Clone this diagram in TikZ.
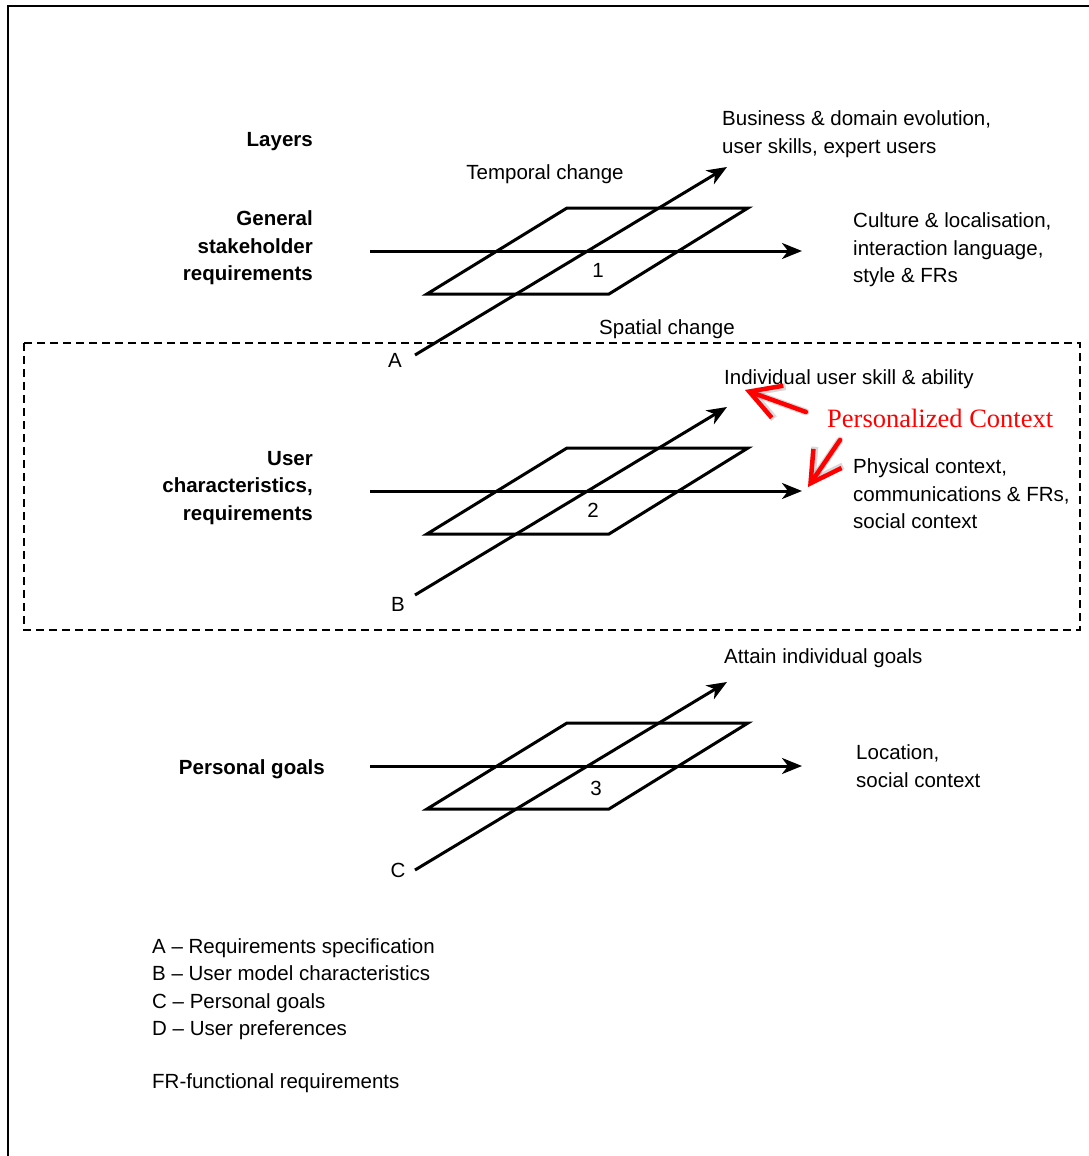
\documentclass[tikz,border=0pt]{standalone}
\usepackage{fontspec}
\setmainfont{Liberation Sans}
\newfontfamily\redserif{Liberation Serif}
\usetikzlibrary{arrows.meta}

\begin{document}
\begin{tikzpicture}[x=1pt,y=-1pt]
\tikzstyle{txt}=[inner sep=0pt, align=left, font=\fontsize{20.5}{27.5}\selectfont]
\tikzstyle{layername}=[inner sep=0pt, align=right, anchor=east, font=\fontsize{20.5}{27.5}\selectfont\bfseries]
\tikzstyle{change}=[-{Stealth[length=20pt,width=16pt,inset=6pt]}, line width=3pt]
\tikzstyle{plane}=[line width=3pt, line join=miter]
\tikzstyle{pointer}=[-{Straight Barb[length=30pt,width=34pt]}, red, line width=4.5pt, line cap=round]
\tikzstyle{pshadow}=[pointer, black, opacity=0.15, line width=7pt, shift={(4pt,-6pt)}]

\useasboundingbox (0,0) rectangle (1089,1156);
\draw[line width=2pt] (8,1156) -- (8,6) -- (1089,6);

% layer names
\node[layername] (layers) at (313,142) {Layers};
\node[layername] (general) at (313,248) {General\\stakeholder\\requirements};
\node[layername] (user) at (313,488) {User\\characteristics,\\requirements};
\node[layername] (goals) at (325,769) {Personal goals};

% layer 1
\draw[plane] (427,294) -- (567,208) -- (748,208) -- (609,294) -- cycle;
\coordinate (a0) at (415,355);
\coordinate (a1) at (727,167);
\coordinate (h1s) at (370,251);
\coordinate (h1e) at (802,251);
\draw[change] (a0) -- (a1);
\draw[change] (h1s) -- (h1e);
\draw (395,360) node[txt] (A) {A};
\draw (598,270) node[txt] (n1) {1};
\draw (545,174) node[txt] (temporal) {Temporal change};
\draw (667,329) node[txt] (spatial) {Spatial change};
\draw (722,134) node[txt, anchor=west] (business) {Business \& domain evolution,\\user skills, expert users};
\draw (853,250) node[txt, anchor=west] (culture) {Culture \& localisation,\\interaction language,\\style \& FRs};

% layer 2
\draw[dashed, dash pattern=on 8pt off 5pt, line width=1.3pt] (24,343) rectangle (1080,630);
\draw[plane] (427,534) -- (567,448) -- (748,448) -- (609,534) -- cycle;
\coordinate (b0) at (415,595);
\coordinate (b1) at (727,407);
\coordinate (h2s) at (370,491);
\coordinate (h2e) at (802,491);
\draw[change] (b0) -- (b1);
\draw[change] (h2s) -- (h2e);
\draw (398,604) node[txt] (B) {B};
\draw (593,510) node[txt] (n2) {2};
\draw (724,379) node[txt, anchor=west] (skill) {Individual user skill \& ability};
\draw (853,494) node[txt, anchor=west] (physical) {Physical context,\\communications \& FRs,\\social context};

% layer 3
\draw[plane] (427,809) -- (567,723) -- (748,723) -- (609,809) -- cycle;
\coordinate (c0) at (415,870);
\coordinate (c1) at (727,682);
\coordinate (h3s) at (370,766);
\coordinate (h3e) at (802,766);
\draw[change] (c0) -- (c1);
\draw[change] (h3s) -- (h3e);
\draw (398,870) node[txt] (C) {C};
\draw (596,788) node[txt] (n3) {3};
\draw (724,658) node[txt, anchor=west] (attain) {Attain individual goals};
\draw (856,766) node[txt, anchor=west] (location) {Location,\\social context};

% personalized context
\draw (827,418) node[anchor=west, inner sep=0pt, text=red, font=\redserif\fontsize{26.5}{30}\selectfont] (pc) {Personalized Context};
\coordinate (r1s) at (806,412);
\coordinate (r1e) at (745,390);
\coordinate (r2s) at (840,440);
\coordinate (r2e) at (808,487);
\draw[pshadow] (r1s) -- (r1e);
\draw[pshadow] (r2s) -- (r2e);
\draw[pointer] (r1s) -- (r1e);
\draw[pointer] (r2s) -- (r2e);

% legend
\draw (152,989) node[txt, anchor=west] (legend) {A -- Requirements specification\\B -- User model characteristics\\C -- Personal goals\\D -- User preferences};
\draw (152,1083) node[txt, anchor=west] (fr) {FR-functional requirements};
\end{tikzpicture}
\end{document}
